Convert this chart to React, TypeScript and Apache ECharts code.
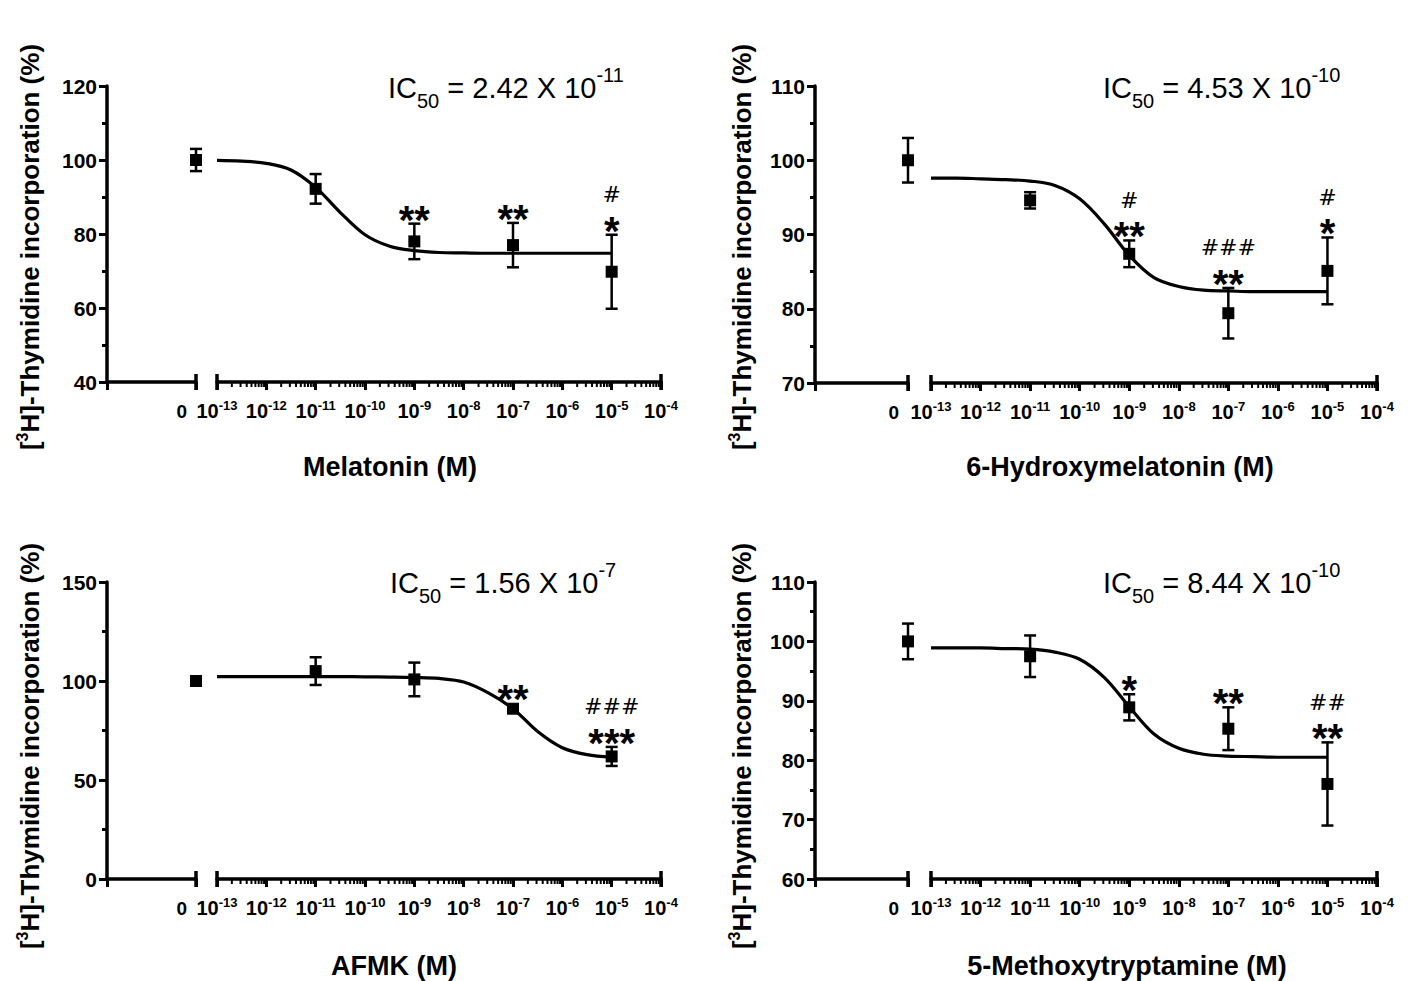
import React, { useEffect, useRef } from "react";
import * as echarts from "echarts";

const FONT = "'Liberation Sans', Arial, Helvetica, sans-serif";
const HASH_FONT = "'DejaVu Sans', sans-serif";

// x axis: log10 of molar concentration
const tickExponents = [-13, -12, -11, -10, -9, -8, -7, -6, -5, -4];
const doseExponents = [-11, -9, -7, -5];
const curveExponents = [-13, -12.5, -12, -11.5, -11, -10.5, -10, -9.5, -9, -8.5, -8, -7.5, -7, -6.5, -6, -5.5, -5];

// Melatonin
const melatoninControl = [100, 3];
const melatoninMean = [92.2, 78.0, 77.0, 69.8];
const melatoninSem = [4.0, 4.8, 6.0, 10.0];
const melatoninFit = [99.9, 99.7, 99.1, 97.3, 92.6, 85.8, 79.8, 76.7, 75.5, 75.0, 74.9, 74.8, 74.8, 74.8, 74.8, 74.8, 74.8];
const melatoninStars = ["", "**", "**", "*"];
const melatoninHashes = ["", "", "", "#"];

// 6-Hydroxymelatonin
const hydroxyControl = [100, 3];
const hydroxyMean = [94.6, 87.4, 79.4, 85.1];
const hydroxySem = [1.1, 1.8, 3.4, 4.5];
const hydroxyFit = [97.6, 97.6, 97.5, 97.4, 97.2, 96.6, 94.8, 91.4, 87.2, 84.2, 83.0, 82.5, 82.4, 82.3, 82.3, 82.3, 82.3];
const hydroxyStars = ["", "**", "**", "*"];
const hydroxyHashes = ["", "#", "###", "#"];

// AFMK
const afmkControl = [100, 1.5];
const afmkMean = [105.0, 100.8, 86.0, 61.9];
const afmkSem = [7.0, 8.5, 1.2, 4.8];
const afmkFit = [102.2, 102.2, 102.2, 102.2, 102.2, 102.2, 102.1, 102.0, 101.8, 101.3, 99.5, 94.0, 86.0, 74.5, 66.3, 62.8, 61.6];
const afmkStars = ["", "", "**", "***"];
const afmkHashes = ["", "", "", "###"];

// 5-Methoxytryptamine
const methoxyControl = [100, 3];
const methoxyMean = [97.5, 88.9, 85.3, 76.0];
const methoxySem = [3.5, 2.2, 3.6, 7.0];
const methoxyFit = [98.9, 98.9, 98.9, 98.8, 98.7, 98.2, 97.0, 93.9, 89.0, 84.4, 82.0, 81.0, 80.7, 80.6, 80.5, 80.5, 80.5];
const methoxyStars = ["", "*", "**", "**"];
const methoxyHashes = ["", "", "", "##"];

// y-axis tick settings [min, max, step]
const melatoninYTicks = [40, 120, 20];
const hydroxyYTicks = [70, 110, 10];
const afmkYTicks = [0, 150, 50];
const methoxyYTicks = [60, 110, 10];

const titles = ["Melatonin (M)", "6-Hydroxymelatonin (M)", "AFMK (M)", "5-Methoxytryptamine (M)"];
const ic50Mantissa = ["2.42", "4.53", "1.56", "8.44"];
const ic50Exponent = ["-11", "-10", "-7", "-10"];

const panels = [
  { control: melatoninControl, mean: melatoninMean, sem: melatoninSem, fit: melatoninFit, stars: melatoninStars, hashes: melatoninHashes, yt: melatoninYTicks },
  { control: hydroxyControl, mean: hydroxyMean, sem: hydroxySem, fit: hydroxyFit, stars: hydroxyStars, hashes: hydroxyHashes, yt: hydroxyYTicks },
  { control: afmkControl, mean: afmkMean, sem: afmkSem, fit: afmkFit, stars: afmkStars, hashes: afmkHashes, yt: afmkYTicks },
  { control: methoxyControl, mean: methoxyMean, sem: methoxySem, fit: methoxyFit, stars: methoxyStars, hashes: methoxyHashes, yt: methoxyYTicks },
];

const layouts = [
  { yx: 107, zx: 196, ll: 217, lr: 661, top: 86, bot: 382, ytx: 30, yty: 247, xtx: 390, xty: 467, icx: 388, icy: 88 },
  { yx: 815, zx: 908, ll: 931, lr: 1377, top: 86, bot: 383, ytx: 742, yty: 247, xtx: 1120, xty: 467, icx: 1103, icy: 88 },
  { yx: 107, zx: 196, ll: 217, lr: 661, top: 582, bot: 879, ytx: 30, yty: 746, xtx: 394, xty: 966, icx: 390, icy: 583 },
  { yx: 815, zx: 908, ll: 931, lr: 1377, top: 582, bot: 879, ytx: 742, yty: 746, xtx: 1127, xty: 966, icx: 1103, icy: 583 },
];

const BLACK = "#000";
const axisLineStyle = { color: BLACK, width: 3.5 };
const tickStyle = { color: BLACK, width: 3 };
const SYMBOL = 12;

function errorBarRender(params: any, api: any) {
  const x = api.value(0);
  const lo = api.coord([x, api.value(1)]);
  const hi = api.coord([x, api.value(2)]);
  const w = 6;
  const st = { stroke: BLACK, lineWidth: 2.5 };
  return {
    type: "group",
    children: [
      { type: "line", shape: { x1: lo[0], y1: lo[1], x2: hi[0], y2: hi[1] }, style: st },
      { type: "line", shape: { x1: lo[0] - w, y1: lo[1], x2: lo[0] + w, y2: lo[1] }, style: st },
      { type: "line", shape: { x1: hi[0] - w, y1: hi[1], x2: hi[0] + w, y2: hi[1] }, style: st },
    ],
  };
}

function capRender(params: any, api: any) {
  const p = api.coord([api.value(0), api.value(1)]);
  return {
    type: "line",
    shape: { x1: p[0], y1: p[1] - 8, x2: p[0], y2: p[1] + 8 },
    style: { stroke: BLACK, lineWidth: 3.5 },
  };
}

function minorTickRender(params: any, api: any) {
  const n = api.value(0);
  const y0 = api.value(1);
  const children: any[] = [];
  for (let k = 2; k <= 9; k++) {
    const p = api.coord([n + Math.log10(k), y0]);
    children.push({
      type: "line",
      shape: { x1: p[0], y1: p[1], x2: p[0], y2: p[1] + 5 },
      style: { stroke: BLACK, lineWidth: 2 },
    });
  }
  return { type: "group", children };
}

function makeAnnotationRender(stars: string[], hashes: string[]) {
  return (params: any, api: any) => {
    const j = params.dataIndex;
    const x = api.value(0);
    const mean = api.value(1);
    const sem = api.value(2);
    const pTop = api.coord([x, mean + sem]);
    const pMean = api.coord([x, mean]);
    const top = Math.min(pTop[1], pMean[1] - SYMBOL / 2);
    const children: any[] = [];
    if (stars[j]) {
      children.push({
        type: "text", x: pTop[0], y: top - 4,
        style: { text: stars[j], fontSize: 40, fontWeight: "bold", fontFamily: FONT, fill: BLACK, align: "center", verticalAlign: "middle" },
      });
    }
    if (hashes[j]) {
      children.push({
        type: "text", x: pTop[0], y: top - 40,
        style: { text: hashes[j], fontSize: 22, fontFamily: HASH_FONT, fill: BLACK, align: "center", verticalAlign: "middle" },
      });
    }
    return { type: "group", children };
  };
}

function buildOption() {
  const grid: any[] = [];
  const xAxis: any[] = [];
  const yAxis: any[] = [];
  const series: any[] = [];
  const graphic: any[] = [];

  panels.forEach((p, i) => {
    const L = layouts[i];
    const a = 2 * i;
    const b = 2 * i + 1;
    const [yMin, yMax, yStep] = p.yt;
    const h = L.bot - L.top;
    grid.push({ left: L.yx, top: L.top, width: L.zx - L.yx, height: h });
    grid.push({ left: L.ll, top: L.top, width: L.lr - L.ll, height: h });

    xAxis.push({
      gridIndex: a,
      type: "value",
      position: "bottom",
      min: -1,
      max: 0,
      interval: 1,
      axisLine: { onZero: false, lineStyle: axisLineStyle },
      axisTick: { length: 8, lineStyle: tickStyle },
      splitLine: { show: false },
      axisLabel: {
        margin: 17,
        align: "right",
        formatter: (v: number) => (v === 0 ? "{z|0}" : ""),
        rich: { z: { fontSize: 19, fontWeight: "bold", fontFamily: FONT, color: BLACK, lineHeight: 24, padding: [0, 9, 0, 0] } },
      },
    });
    xAxis.push({
      gridIndex: b,
      type: "value",
      position: "bottom",
      min: tickExponents[0],
      max: tickExponents[tickExponents.length - 1],
      interval: 1,
      axisLine: { onZero: false, lineStyle: axisLineStyle },
      axisTick: { length: 8, lineStyle: tickStyle },
      splitLine: { show: false },
      axisLabel: {
        margin: 17,
        formatter: (v: number) => `{b|10}{s|${v}}`,
        rich: {
          b: { fontSize: 20, fontWeight: "bold", fontFamily: FONT, color: BLACK, lineHeight: 24 },
          s: { fontSize: 13, fontWeight: "bold", fontFamily: FONT, color: BLACK, verticalAlign: "top" },
        },
      },
    });

    yAxis.push({
      gridIndex: a,
      type: "value",
      position: "left",
      min: yMin,
      max: yMax,
      interval: yStep,
      axisLine: { show: true, onZero: false, lineStyle: axisLineStyle },
      axisTick: { show: true, length: 8, lineStyle: tickStyle },
      minorTick: { show: true, splitNumber: 2, length: 5, lineStyle: tickStyle },
      splitLine: { show: false },
      axisLabel: { margin: 10, fontSize: 21, fontWeight: "bold", fontFamily: FONT, color: BLACK },
    });
    yAxis.push({ gridIndex: b, type: "value", min: yMin, max: yMax, interval: yStep, show: false, axisLine: { onZero: false }, splitLine: { show: false } });

    // control (zero) segment
    series.push({
      type: "custom", xAxisIndex: a, yAxisIndex: a, silent: true, clip: false,
      renderItem: errorBarRender, encode: { x: 0, y: [1, 2] },
      data: [[0, p.control[0] - p.control[1], p.control[0] + p.control[1]]],
    });
    series.push({
      type: "custom", xAxisIndex: a, yAxisIndex: a, silent: true, clip: false,
      renderItem: capRender, encode: { x: 0, y: 1 }, data: [[0, yMin]],
    });
    series.push({
      type: "scatter", xAxisIndex: a, yAxisIndex: a, silent: true, clip: false,
      symbol: "rect", symbolSize: SYMBOL, itemStyle: { color: BLACK, opacity: 1 },
      data: [[0, p.control[0]]], z: 5,
    });

    // dose segment
    series.push({
      type: "custom", xAxisIndex: b, yAxisIndex: b, silent: true, clip: false,
      renderItem: minorTickRender, encode: { x: 0, y: 1 },
      data: tickExponents.slice(0, -1).map((n) => [n, yMin]),
    });
    series.push({
      type: "custom", xAxisIndex: b, yAxisIndex: b, silent: true, clip: false,
      renderItem: capRender, encode: { x: 0, y: 1 },
      data: [[tickExponents[0], yMin], [tickExponents[tickExponents.length - 1], yMin]],
    });
    series.push({
      type: "line", xAxisIndex: b, yAxisIndex: b, silent: true, clip: false,
      data: curveExponents.map((x, j) => [x, p.fit[j]]),
      smooth: 0.35, symbol: "none",
      lineStyle: { color: BLACK, width: 3.2 }, z: 3,
    });
    series.push({
      type: "custom", xAxisIndex: b, yAxisIndex: b, silent: true, clip: false,
      renderItem: errorBarRender, encode: { x: 0, y: [1, 2] },
      data: doseExponents.map((x, j) => [x, p.mean[j] - p.sem[j], p.mean[j] + p.sem[j]]), z: 4,
    });
    series.push({
      type: "scatter", xAxisIndex: b, yAxisIndex: b, silent: true, clip: false,
      symbol: "rect", symbolSize: SYMBOL, itemStyle: { color: BLACK, opacity: 1 },
      data: doseExponents.map((x, j) => [x, p.mean[j]]), z: 5,
    });
    series.push({
      type: "custom", xAxisIndex: b, yAxisIndex: b, silent: true, clip: false,
      renderItem: makeAnnotationRender(p.stars, p.hashes), encode: { x: 0, y: 1 },
      data: doseExponents.map((x, j) => [x, p.mean[j], p.sem[j]]), z: 6,
    });

    // texts
    graphic.push({
      type: "text", x: L.ytx, y: L.yty, rotation: Math.PI / 2,
      style: {
        text: "[{s|3}H]-Thymidine incorporation (%)",
        fontSize: 26, fontWeight: "bold", fontFamily: FONT, fill: BLACK,
        align: "center", verticalAlign: "middle", lineHeight: 32,
        rich: { s: { fontSize: 16, fontWeight: "bold", fontFamily: FONT, fill: BLACK, verticalAlign: "top" } },
      },
    });
    graphic.push({
      type: "text", x: L.xtx, y: L.xty,
      style: {
        text: titles[i], fontSize: 27, fontWeight: "bold", fontFamily: FONT, fill: BLACK,
        align: "center", verticalAlign: "middle",
      },
    });
    graphic.push({
      type: "text", x: L.icx, y: L.icy,
      style: {
        text: `IC{sub|50} = ${ic50Mantissa[i]} X 10{sup|${ic50Exponent[i]}}`,
        fontSize: 29, fontFamily: FONT, fill: BLACK, align: "left", verticalAlign: "middle", lineHeight: 46,
        rich: {
          sub: { fontSize: 20, fontFamily: FONT, fill: BLACK, verticalAlign: "bottom" },
          sup: { fontSize: 20, fontFamily: FONT, fill: BLACK, verticalAlign: "top" },
        },
      },
    });
  });

  return {
    animation: false,
    backgroundColor: "#fff",
    grid, xAxis, yAxis, series, graphic,
  };
}

export default function App() {
  const ref = useRef<HTMLDivElement>(null);
  useEffect(() => {
    if (!ref.current) return;
    const chart = echarts.init(ref.current, null, { renderer: "svg" });
    chart.setOption(buildOption() as any);
    return () => chart.dispose();
  }, []);
  return (
    <div
      ref={ref}
      style={{ position: "absolute", left: 0, top: 0, width: 1411, height: 981, background: "#fff" }}
    />
  );
}
